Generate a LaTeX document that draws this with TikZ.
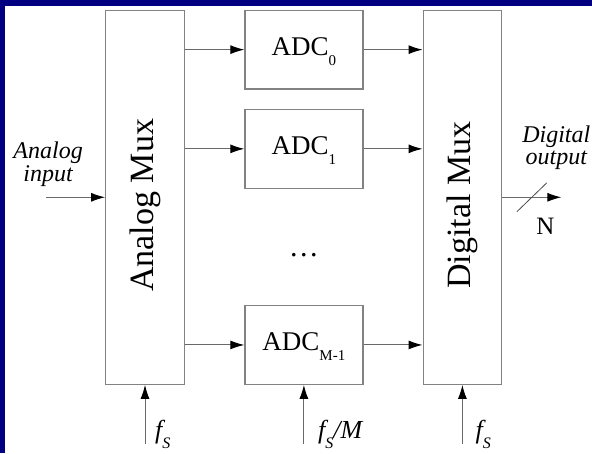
\documentclass[tikz,border=0pt]{standalone}
\usepackage{graphicx}
\usepackage{fontspec}
\setmainfont{Liberation Serif}
\usetikzlibrary{arrows.meta, positioning}
\definecolor{slideblue}{RGB}{0,0,128}
\definecolor{boxgray}{RGB}{130,130,130}
\definecolor{wiregray}{RGB}{105,105,105}
\newcommand{\dropsub}[3]{\raisebox{-#1}{\fontsize{#2}{#2}\selectfont #3}}
\newcommand{\muxlabel}[1]{\rotatebox{90}{#1\kern16pt}}

\begin{document}
\begin{tikzpicture}[
  x=1pt, y=1pt,
  mux/.style={draw=boxgray, line width=1.2pt, minimum width=78.6pt,
              minimum height=374pt, inner sep=0pt, font=\fontsize{34}{40}\selectfont},
  adc/.style={draw=boxgray, line width=1.2pt, minimum width=118pt,
              minimum height=78.7pt, inner sep=0pt, text height=22pt,
              font=\fontsize{27}{32}\selectfont},
  arrow/.style={-{Latex[length=14pt, width=9pt, color=black]},
                draw=wiregray, line width=1pt},
  ital/.style={font=\fontsize{24}{22.5}\selectfont\itshape, align=center, inner sep=0pt},
  clk/.style={font=\fontsize{26}{30}\selectfont\itshape, anchor=west, inner sep=0pt}
]
  % slide frame
  \fill[slideblue] (0,0) rectangle (592,453);
  \fill[white] (5,0) rectangle (592,447);
  \useasboundingbox (0,0) rectangle (592,453);

  % blocks
  \node[mux] (amux) at (145,255.7) {\muxlabel{Analog Mux}};
  \node[adc, right=59.4pt of amux.north east, anchor=north west] (adc0)
    {ADC\dropsub{10pt}{15pt}{0}};
  \node[adc, below=19.3pt of adc0] (adc1) {ADC\dropsub{10pt}{15pt}{1}};
  \node[adc, right=59.4pt of amux.south east, anchor=south west] (adcm)
    {ADC\dropsub{10pt}{15pt}{M-1}};
  \node[mux, right=59pt of adc0.north east, anchor=north west] (dmux)
    {\muxlabel{Digital Mux}};
  \node[font=\fontsize{30}{32}\selectfont, inner sep=0pt, below=64pt of adc1] (dots)
    {.\hspace{2.5pt}.\hspace{2.5pt}.};

  % mux to converters to mux
  \draw[arrow] (amux.east |- adc0.west) -- (adc0.west);
  \draw[arrow] (amux.east |- adc1.west) -- (adc1.west);
  \draw[arrow] (amux.east |- adcm.west) -- (adcm.west);
  \draw[arrow] (adc0.east) -- (adc0.east -| dmux.west);
  \draw[arrow] (adc1.east) -- (adc1.east -| dmux.west);
  \draw[arrow] (adcm.east) -- (adcm.east -| dmux.west);

  % input and output
  \coordinate[left=59pt of amux.west] (ain);
  \draw[arrow] (ain) -- (amux.west);
  \node[ital, above=10.5pt of ain, xshift=2pt] (inlabel) {Analog\\input};
  \coordinate[right=59pt of dmux.east] (dout);
  \draw[arrow] (dmux.east) -- coordinate (bus) (dout);
  \draw[draw=black!70, line width=0.8pt]
    ([shift={(-15pt,-14.5pt)}]bus) -- ([shift={(15pt,14.5pt)}]bus);
  \node[ital, above=27pt of dout, xshift=-5pt] (outlabel) {Digital\\output};
  \node[font=\fontsize{25}{30}\selectfont, inner sep=0pt] (nbits)
    at ([shift={(13.7pt,-28.7pt)}]bus) {N};

  % sampling clocks
  \coordinate[below=58.7pt of amux.south] (clka);
  \coordinate[below=58.7pt of adcm.south] (clkm);
  \coordinate[below=58.7pt of dmux.south] (clkd);
  \draw[arrow] (clka) -- (amux.south);
  \draw[arrow] (clkm) -- (adcm.south);
  \draw[arrow] (clkd) -- (dmux.south);
  \node[clk] (fa) at ([xshift=10pt, yshift=9pt]clka) {f\dropsub{10pt}{16pt}{S}};
  \node[clk] (fm) at ([xshift=14pt, yshift=9pt]clkm) {f\dropsub{10pt}{16pt}{S}/M};
  \node[clk] (fd) at ([xshift=13pt, yshift=9pt]clkd) {f\dropsub{10pt}{16pt}{S}};
\end{tikzpicture}
\end{document}
